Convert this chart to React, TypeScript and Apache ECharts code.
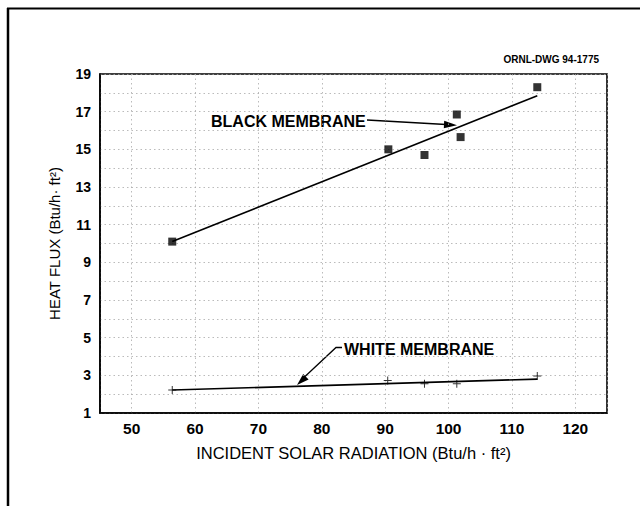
import React, { useEffect, useRef } from "react";
import * as echarts from "echarts";

const blackX = [56.4, 90.5, 96.2, 101.3, 101.9, 114.0];
const blackY = [10.1, 15.0, 14.7, 16.85, 15.65, 18.3];
const blackFitX = [56.4, 114.0];
const blackFitY = [10.1, 17.85];

const whiteX = [56.4, 90.4, 96.2, 101.3, 114.0];
const whiteY = [2.22, 2.72, 2.55, 2.55, 2.96];
const whiteFitX = [56.4, 114.0];
const whiteFitY = [2.22, 2.8];

const xMin = 45;
const xMax = 125;
const yMin = 1;
const yMax = 19;

const FONT = "'Liberation Sans', Arial, Helvetica, sans-serif";
const PLUS = "path://M0,3.5H3.5V0H4.5V3.5H8V4.5H4.5V8H3.5V4.5H0Z";

const zip = (xs: number[], ys: number[]) => xs.map((x, i) => [x, ys[i]]);

export default function App() {
  const ref = useRef<HTMLDivElement>(null);
  useEffect(() => {
    if (!ref.current) return;
    const chart = echarts.init(ref.current, null, { renderer: "svg" });
    const grid = { left: 100, top: 74, width: 507, height: 339 };
    chart.setOption({
      animation: false,
      backgroundColor: "#ffffff",
      grid: { ...grid, show: true, borderColor: "#000", borderWidth: 1.6, backgroundColor: "transparent" },
      xAxis: {
        type: "value",
        min: xMin,
        max: xMax,
        splitNumber: 8,
        name: "INCIDENT SOLAR RADIATION (Btu/h · ft²)",
        nameLocation: "middle",
        nameGap: 31,
        nameTextStyle: { fontFamily: FONT, fontSize: 16.5, color: "#000" },
        axisLine: { show: true, lineStyle: { color: "#000", width: 1.6 } },
        axisTick: { show: false },
        axisLabel: {
          showMinLabel: false,
          showMaxLabel: false,
          margin: 7,
          fontFamily: FONT,
          fontSize: 15.5,
          fontWeight: "bold",
          color: "#000",
          formatter: (v: number) => (v % 10 === 0 ? String(v) : ""),
        },
        splitLine: { show: true, lineStyle: { color: "#aaa", width: 0.8, type: [1.5, 3] } },
      },
      yAxis: {
        type: "value",
        min: yMin,
        max: yMax,
        interval: 1,
        name: "HEAT FLUX (Btu/h· ft²)",
        nameLocation: "middle",
        nameGap: 38,
        nameTextStyle: { fontFamily: FONT, fontSize: 15, color: "#000" },
        axisLine: { show: true, lineStyle: { color: "#000", width: 1.6 } },
        axisTick: { show: false },
        axisLabel: {
          margin: 9,
          fontFamily: FONT,
          fontSize: 14,
          fontWeight: "bold",
          color: "#000",
          formatter: (v: number) => (Math.round(v) % 2 === 1 ? String(v) : ""),
        },
        splitLine: { show: true, lineStyle: { color: "#aaa", width: 0.8, type: [1.5, 3] } },
      },
      series: [
        {
          type: "line",
          data: zip(blackFitX, blackFitY),
          symbol: "none",
          lineStyle: { color: "#000", width: 1.6 },
          z: 3,
        },
        {
          type: "line",
          data: zip(whiteFitX, whiteFitY),
          symbol: "none",
          lineStyle: { color: "#000", width: 1.6 },
          z: 3,
        },
        {
          type: "scatter",
          data: zip(blackX, blackY),
          symbol: "rect",
          symbolSize: 8,
          itemStyle: { color: "#000" },
          z: 4,
        },
        {
          type: "scatter",
          data: zip(whiteX, whiteY),
          symbol: PLUS,
          symbolSize: 8,
          itemStyle: { color: "#000" },
          z: 4,
        },
      ],
      graphic: [
        { type: "line", shape: { x1: 8, y1: 8, x2: 8, y2: 506 }, style: { stroke: "#000", lineWidth: 2.5 } },
        { type: "line", shape: { x1: 7, y1: 8.5, x2: 640, y2: 8.5 }, style: { stroke: "#000", lineWidth: 2 } },
        {
          type: "text",
          x: 599,
          y: 59,
          style: {
            text: "ORNL-DWG 94-1775",
            fontFamily: FONT,
            fontSize: 10,
            fontWeight: "bold",
            fill: "#000",
            align: "right",
            verticalAlign: "middle",
          },
        },
        {
          type: "text",
          x: 211,
          y: 121,
          style: {
            text: "BLACK MEMBRANE",
            fontFamily: FONT,
            fontSize: 16,
            fontWeight: "bold",
            fill: "#000",
            align: "left",
            verticalAlign: "middle",
          },
        },
        { type: "line", shape: { x1: 367, y1: 120, x2: 446, y2: 124.5 }, style: { stroke: "#000", lineWidth: 1.3 } },
        {
          type: "polygon",
          shape: { points: [[457, 125.2], [444.2, 120.8], [443.8, 128.2]] },
          style: { fill: "#000" },
        },
        {
          type: "text",
          x: 344,
          y: 349,
          style: {
            text: "WHITE MEMBRANE",
            fontFamily: FONT,
            fontSize: 16,
            fontWeight: "bold",
            fill: "#000",
            align: "left",
            verticalAlign: "middle",
          },
        },
        {
          type: "polyline",
          shape: { points: [[342, 347.5], [336, 347.5], [305, 376.5]] },
          style: { stroke: "#000", lineWidth: 1.3, fill: null },
        },
        {
          type: "polygon",
          shape: { points: [[297, 385], [308.6, 379.6], [303.2, 373.9]] },
          style: { fill: "#000" },
        },
      ],
    });
    return () => chart.dispose();
  }, []);
  return (
    <div
      ref={ref}
      style={{ position: "absolute", left: 0, top: 0, width: 640, height: 506, background: "#fff" }}
    />
  );
}
